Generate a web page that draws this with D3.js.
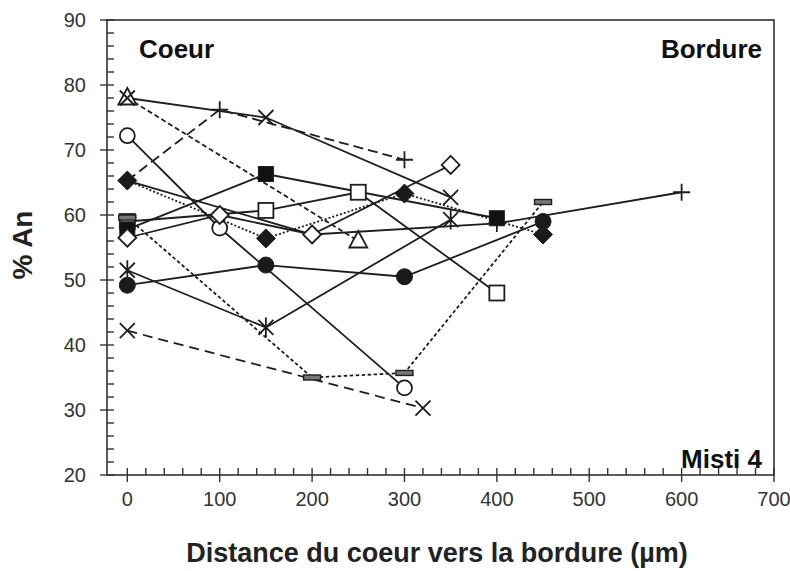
<!DOCTYPE html>
<html><head><meta charset="utf-8">
<script src="https://cdn.jsdelivr.net/npm/d3@7"></script>
<style>body{margin:0;background:#fff}svg{display:block}text{font-family:"Liberation Sans",Arial,sans-serif}</style>
</head><body><svg id="c" width="790" height="571"></svg>
<script>
// Data: each series is [distance (µm), % An]
const triSeries    = [[0,78],[250,56]];
const crossTop     = [[0,78],[150,75],[350,62.7]];
const plusDashed   = [[0,65.3],[100,76.2],[300,68.5]];
const plusSolid    = [[0,65.3],[200,57],[400,58.7],[600,63.5]];
const openCircle   = [[0,72.2],[100,58],[300,33.4]];
const fillDiamond  = [[0,65.3],[150,56.4],[300,63.3],[450,57]];
const openSquare   = [[0,59],[150,60.7],[250,63.5],[400,48]];
const fillSquare   = [[0,57.8],[150,66.3],[400,59.5]];
const barSeries    = [[0,59.6],[200,35],[300,35.7],[450,62]];
const openDiamond  = [[0,56.5],[100,60],[200,57],[350,67.7]];
const fillCircle   = [[0,49.2],[150,52.3],[300,50.5],[450,59]];
const crossBottom  = [[0,42.2],[320,30.3]];
const asterSeries  = [[0,51.5],[150,42.7],[350,59.3]];
const xTicks = [0,100,200,300,400,500,600,700];
const yTicks = [20,30,40,50,60,70,80,90];

const series = [
  {d:triSeries, m:"tri", dash:"5,3"},
  {d:crossTop, m:"x", dash:null},
  {d:plusDashed, m:"plus", dash:"10,5"},
  {d:plusSolid, m:"plus", dash:null},
  {d:openCircle, m:"ocirc", dash:null},
  {d:fillDiamond, m:"fdiam", dash:"2,2"},
  {d:openSquare, m:"osq", dash:null},
  {d:fillSquare, m:"fsq", dash:null},
  {d:barSeries, m:"bar", dash:"3.5,2.5"},
  {d:openDiamond, m:"odiam", dash:null},
  {d:fillCircle, m:"fcirc", dash:null},
  {d:crossBottom, m:"x", dash:"10,6"},
  {d:asterSeries, m:"aster", dash:null}
];

const svg = d3.select("#c");
const L=107, R=774, T=20, B=475;
const x = d3.scaleLinear().domain([-22,700]).range([L,R]);
const y = d3.scaleLinear().domain([20,90]).range([B,T]);
const ink = "#1e1e1e";

// frame
svg.append("rect").attr("x",L).attr("y",T).attr("width",R-L).attr("height",B-T)
  .attr("fill","none").attr("stroke","#333").attr("stroke-width",1.6);

// y ticks
const gy = svg.append("g");
d3.range(20,90.1,2).forEach(v=>{
  const major = v%10===0;
  gy.append("line").attr("x1", major?L-7:L).attr("x2", L+7).attr("y1",y(v)).attr("y2",y(v))
    .attr("stroke","#333").attr("stroke-width",1.4);
});
yTicks.forEach(v=>{
  gy.append("text").attr("x",86).attr("y",y(v)+7).attr("text-anchor","end")
    .attr("font-size",20).attr("fill","#333").text(v);
});
// x ticks
const gx = svg.append("g");
d3.range(0,700.1,20).forEach(v=>{
  const major = v%100===0;
  gx.append("line").attr("x1",x(v)).attr("x2",x(v)).attr("y1",B-7).attr("y2", major?B+7:B)
    .attr("stroke","#333").attr("stroke-width",1.4);
});
xTicks.forEach(v=>{
  gx.append("text").attr("x",x(v)).attr("y",506).attr("text-anchor","middle")
    .attr("font-size",20).attr("fill","#333").text(v);
});

// titles
svg.append("text").attr("x",437).attr("y",562).attr("text-anchor","middle")
  .attr("font-size",27).attr("font-weight","bold").attr("fill","#222")
  .text("Distance du coeur vers la bordure (µm)");
svg.append("text").attr("transform","translate(32,245) rotate(-90)").attr("text-anchor","middle")
  .attr("font-size",28).attr("font-weight","bold").attr("fill","#222").text("% An");
svg.append("text").attr("x",139).attr("y",58).attr("font-size",26).attr("font-weight","bold").attr("fill","#111").text("Coeur");
svg.append("text").attr("x",762).attr("y",58).attr("text-anchor","end").attr("font-size",26).attr("font-weight","bold").attr("fill","#111").text("Bordure");
svg.append("text").attr("x",762).attr("y",468).attr("text-anchor","end").attr("font-size",26).attr("font-weight","bold").attr("fill","#111").text("Misti 4");

// lines
const line = d3.line().x(d=>x(d[0])).y(d=>y(d[1]));
series.forEach(s=>{
  svg.append("path").attr("d",line(s.d)).attr("fill","none").attr("stroke",ink)
    .attr("stroke-width",1.8).attr("stroke-dasharray",s.dash);
});

// markers
function marker(g, m, cx, cy){
  const t = g.append("g").attr("transform",`translate(${cx},${cy})`);
  const sw = 1.8;
  switch(m){
    case "tri": t.append("path").attr("d","M0,-10L9,6.5L-9,6.5Z").attr("fill","#fff").attr("stroke",ink).attr("stroke-width",sw); break;
    case "x": t.append("path").attr("d","M-7.5,-7.5L7.5,7.5M-7.5,7.5L7.5,-7.5").attr("stroke",ink).attr("stroke-width",sw); break;
    case "plus": t.append("path").attr("d","M-8.5,0L8.5,0M0,-8.5L0,8.5").attr("stroke",ink).attr("stroke-width",sw); break;
    case "aster": t.append("path").attr("d","M-7.5,-7.5L7.5,7.5M-7.5,7.5L7.5,-7.5M0,-10L0,10").attr("stroke",ink).attr("stroke-width",sw); break;
    case "ocirc": t.append("circle").attr("r",7.5).attr("fill","#fff").attr("stroke",ink).attr("stroke-width",sw); break;
    case "fcirc": t.append("circle").attr("r",8).attr("fill","#1a1a1a").attr("stroke",ink).attr("stroke-width",1); break;
    case "fdiam": t.append("path").attr("d","M0,-9.5L9.5,0L0,9.5L-9.5,0Z").attr("fill","#1a1a1a").attr("stroke",ink).attr("stroke-width",1); break;
    case "odiam": t.append("path").attr("d","M0,-9L9,0L0,9L-9,0Z").attr("fill","#fff").attr("stroke",ink).attr("stroke-width",sw); break;
    case "osq": t.append("rect").attr("x",-7.5).attr("y",-7.5).attr("width",15).attr("height",15).attr("fill","#fff").attr("stroke",ink).attr("stroke-width",sw); break;
    case "fsq": t.append("rect").attr("x",-7.5).attr("y",-7.5).attr("width",15).attr("height",15).attr("fill","#111").attr("stroke",ink).attr("stroke-width",1); break;
    case "bar": t.append("rect").attr("x",-8.5).attr("y",-2.5).attr("width",17).attr("height",5).attr("fill","#777").attr("stroke",ink).attr("stroke-width",1.4); break;
  }
}
const gm = svg.append("g");
series.forEach(s=>{ s.d.forEach(p=> marker(gm, s.m, x(p[0]), y(p[1]))); });
</script></body></html>
